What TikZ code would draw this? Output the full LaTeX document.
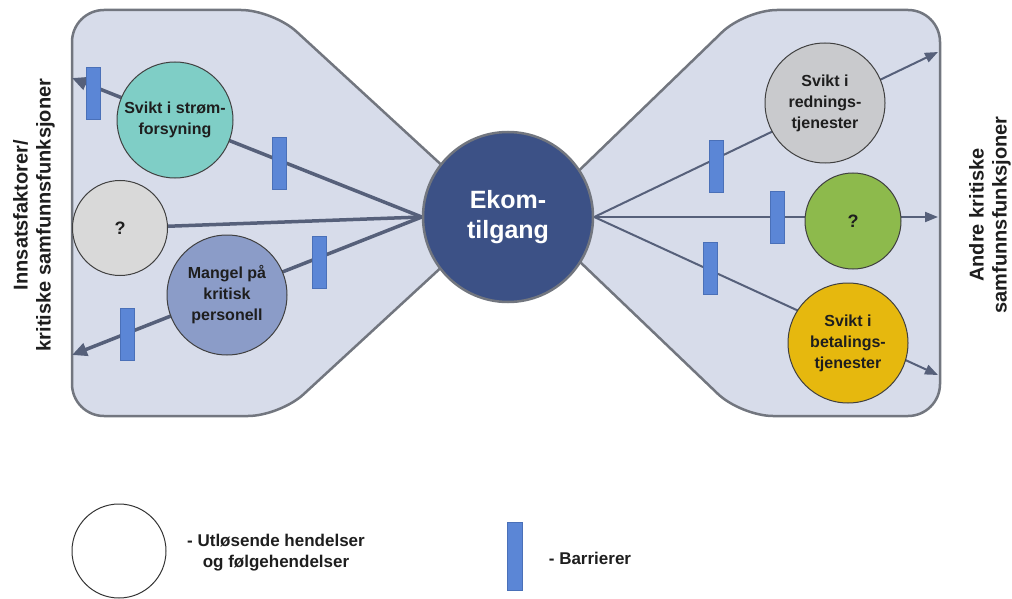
\documentclass[tikz,border=0pt]{standalone}
\usepackage{fontspec}
\setmainfont{Liberation Sans}
\usetikzlibrary{arrows.meta}
\definecolor{panelfill}{HTML}{D7DCEA}
\definecolor{panelline}{HTML}{72767F}
\definecolor{flowcol}{HTML}{56607A}
\definecolor{barfill}{HTML}{5B86D6}
\definecolor{barline}{HTML}{4A70B8}
\definecolor{ekomfill}{HTML}{3C5186}
\definecolor{stromfill}{HTML}{7FCEC6}
\definecolor{qleftfill}{HTML}{D9D9D9}
\definecolor{mangelfill}{HTML}{8B9CC8}
\definecolor{redfill}{HTML}{C9CACD}
\definecolor{qrightfill}{HTML}{8DBA4C}
\definecolor{betfill}{HTML}{E6B80E}
\definecolor{txt}{HTML}{1E1E1E}
\pgfdeclarelayer{panels}
\pgfdeclarelayer{flows}
\pgfsetlayers{panels,flows,main}
\tikzset{
  panel/.style={draw=panelline, line width=2.5pt, fill=panelfill, rounded corners=32pt},
  event/.style={circle, draw=black!75, line width=1pt, inner sep=0pt,
    minimum size=#1, align=center, text=txt,
    font=\fontsize{16}{21}\selectfont\bfseries},
  barrier/.style={rectangle, draw=barline, line width=0.6pt, fill=barfill,
    minimum width=14pt, minimum height=52pt, inner sep=0pt},
  flowL/.style={draw=flowcol, line width=3.5pt},
  flowR/.style={draw=flowcol, line width=2pt},
  tipL/.style={-{Triangle[length=15pt,width=13pt]}},
  tipR/.style={-{Triangle[length=13pt,width=10pt]}},
  sidelabel/.style={rotate=90, align=center, text=txt,
    font=\fontsize{20}{23}\selectfont\bfseries},
  legendtext/.style={align=center, text=txt,
    font=\fontsize{17}{21}\selectfont\bfseries},
}
\begin{document}
\begin{tikzpicture}[x=1pt,y=-1pt]
\useasboundingbox (0,0) rectangle (1012,599);

% central event and the surrounding events
\node[event=170pt, fill=ekomfill, draw=panelline, line width=2.5pt, text=white,
      font=\fontsize{25}{30}\selectfont\bfseries] (ekom) at (508,217) {Ekom-\\tilgang};
\node[event=116pt, fill=stromfill] (strom) at (175,120) {Svikt i strøm-\\forsyning};
\node[event=95pt, fill=qleftfill, font=\fontsize{18}{21}\selectfont\bfseries] (qleft) at (120,228) {?};
\node[event=120pt, fill=mangelfill] (mangel) at (227,295) {Mangel på\\kritisk\\personell};
\node[event=120pt, fill=redfill] (redning) at (825,103) {Svikt i\\rednings-\\tjenester};
\node[event=96pt, fill=qrightfill, font=\fontsize{18}{21}\selectfont\bfseries] (qright) at (853,221) {?};
\node[event=120pt, fill=betfill] (betaling) at (848,343) {Svikt i\\betalings-\\tjenester};

% arrow end points on the panel borders
\coordinate (outL1) at (72,78);
\coordinate (outL2) at (72,355);
\coordinate (outR1) at (938,52);
\coordinate (outR2) at (938,217);
\coordinate (outR3) at (938,375);

% the two bow-tie halves
\begin{pgfonlayer}{panels}
\draw[panel] (72,217) -- (72,10) -- (273,10) -- (497,216) -- (280,416) -- (72,416) -- cycle;
\draw[panel] (940,217) -- (940,10) -- (745,10) -- (532,216) -- (741,416) -- (940,416) -- cycle;
\end{pgfonlayer}

% flows out of the central event
\begin{pgfonlayer}{flows}
\draw[flowL, tipL] (ekom.west) -- (outL1);
\draw[flowL] (ekom.west) -- (qleft);
\draw[flowL, tipL] (ekom.west) -- (outL2);
\draw[flowR, tipR] (ekom.east) -- (outR1);
\draw[flowR, tipR] (ekom.east) -- (outR2);
\draw[flowR, tipR] (ekom.east) -- (outR3);
\end{pgfonlayer}

% barriers
\node[barrier] (b1) at (93,93) {};
\node[barrier] (b2) at (279,163) {};
\node[barrier] (b3) at (319,262) {};
\node[barrier] (b4) at (127,334) {};
\node[barrier] (b5) at (716,166) {};
\node[barrier] (b6) at (777,217) {};
\node[barrier] (b7) at (710,268) {};

% side labels
\node[sidelabel] (inlabel) at (34,215) {Innsatsfaktorer/\\kritiske samfunnsfunksjoner};
\node[sidelabel] (outlabel) at (990,215) {Andre kritiske\\samfunnsfunksjoner};

% legend
\node[circle, draw=black!80, line width=1pt, minimum size=94pt, inner sep=0pt] (legcircle) at (119,551) {};
\node[legendtext] (legevent) at (276,553) {- Utløsende hendelser\\og følgehendelser};
\node[barrier, minimum width=15pt, minimum height=68pt] (legbar) at (515,556) {};
\node[legendtext] (legbartext) at (590,558) {- Barrierer};
\end{tikzpicture}
\end{document}
